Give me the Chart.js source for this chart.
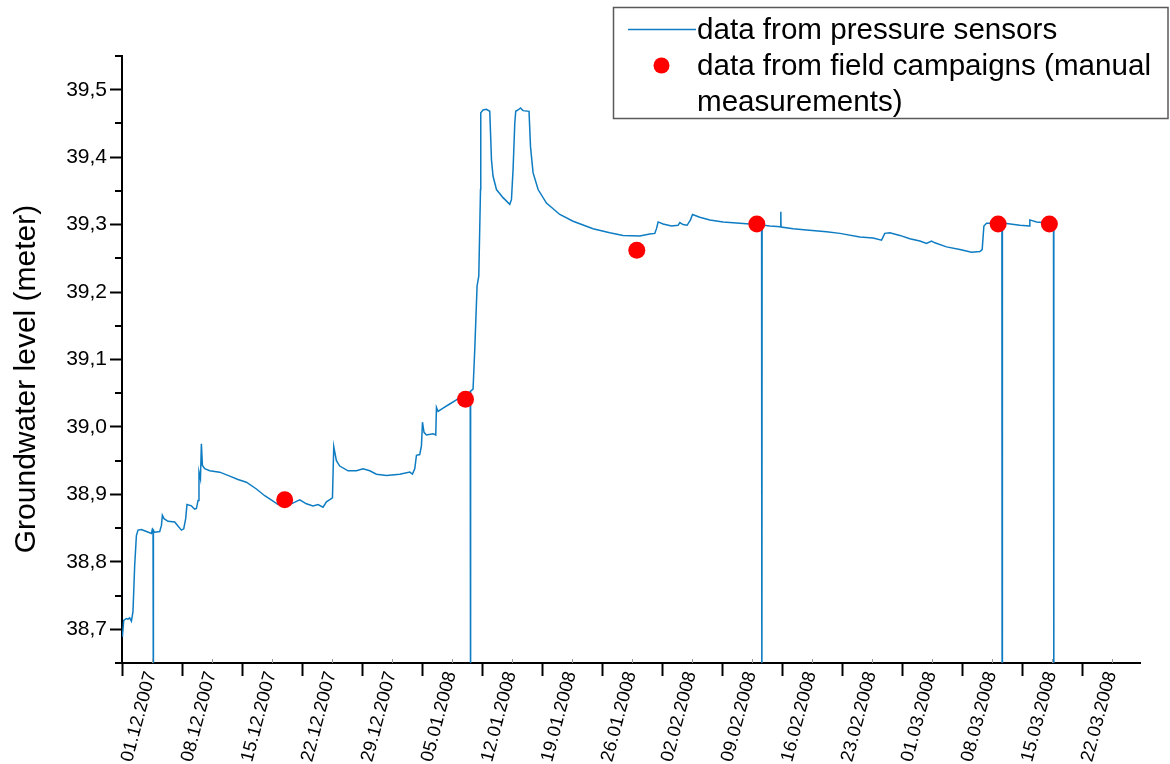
<!DOCTYPE html>
<html>
<head>
<meta charset="utf-8">
<title>Groundwater level</title>
<script src="https://cdn.jsdelivr.net/npm/chart.js@4.4.1/dist/chart.umd.min.js"></script>
<style>
  html, body { margin: 0; padding: 0; background: #ffffff; }
  canvas { display: block; }
</style>
</head>
<body>
<canvas id="chart" width="1170" height="764"></canvas>
<script>
// Time axis: days counted from 01.12.2007 (00:00).
// Sensor readings; the short dips to 38.5 are logger read-outs (off scale).
const sensorDays = [
  0.05, 0.20, 0.51, 0.70, 0.90, 1.10, 1.28, 1.48, 1.68, 1.87, 2.26, 2.85, 3.43, 3.55, 3.62, 3.65, 3.68,
  3.82, 4.40, 4.60, 4.71, 4.90, 5.37, 6.15, 6.53, 6.93, 7.20, 7.43, 7.58, 8.10, 8.48, 8.68, 8.87,
  8.98, 9.15, 9.26, 9.38, 9.65, 10.23, 11.40, 12.57, 13.53, 14.51, 15.68, 16.65, 17.62, 18.20, 18.98,
  19.76, 20.73, 21.51, 22.28, 22.87, 23.45, 23.85, 24.55, 24.70, 25.01, 25.40, 26.37, 27.35, 28.12,
  28.90, 29.68, 30.85, 32.40, 33.57, 33.88, 34.15, 34.35, 34.73, 34.93, 35.05, 35.23, 35.51, 36.28,
  36.60, 36.68, 36.87, 37.45, 38.23, 39.01, 39.63, 40.33, 40.62, 40.65, 40.68, 40.95, 41.15, 41.42,
  41.62, 41.82, 41.85, 42.12, 42.51, 42.90, 43.10, 43.28, 43.68, 44.45, 45.23, 45.43, 45.62, 45.82,
  45.93, 46.20, 46.48, 46.78, 47.48, 47.65, 47.95, 48.54, 49.51, 51.07, 52.62, 54.95, 56.90, 58.45,
  60.40, 61.57, 62.15, 62.35, 62.54, 63.12, 64.10, 64.87, 65.07, 65.45, 65.92, 66.31, 66.55, 67.40,
  68.57, 70.12, 72.07, 74.02, 74.61, 74.64, 74.67, 75.57, 76.82, 76.85, 76.88, 78.29, 79.85, 82.18,
  83.74, 86.07, 87.62, 88.60, 88.98, 89.57, 90.74, 91.90, 93.07, 93.85, 94.43, 94.82, 96.18, 97.74,
  99.10, 100.07, 100.34, 100.54, 100.85, 101.43, 102.64, 102.67, 102.70, 103.18, 104.74, 105.82,
  105.90, 106.68, 107.65, 108.66, 108.70
];
const sensorLevel = [
  38.689, 38.713, 38.716, 38.715, 38.717, 38.712, 38.726, 38.795, 38.839, 38.847, 38.848, 38.845, 38.842, 38.849, 38.848, 38.5, 38.846,
  38.844, 38.845, 38.854, 38.869, 38.864, 38.860, 38.859, 38.853, 38.847, 38.849, 38.864, 38.885, 38.883, 38.878, 38.879, 38.891,
  38.933, 38.923, 38.975, 38.943, 38.938, 38.935, 38.933, 38.927, 38.922, 38.918, 38.908, 38.898, 38.890, 38.885, 38.888,
  38.886, 38.892, 38.886, 38.883, 38.885, 38.881, 38.889, 38.895, 38.971, 38.950, 38.942, 38.935, 38.935, 38.938,
  38.935, 38.930, 38.928, 38.930, 38.933, 38.930, 38.938, 38.958, 38.959, 38.972, 39.007, 38.992, 38.988, 38.990,
  38.988, 39.029, 39.023, 39.028, 39.034, 39.040, 39.046, 39.050, 39.052, 38.5, 39.053, 39.056, 39.115, 39.209,
  39.224, 39.352, 39.466, 39.470, 39.471, 39.468, 39.396, 39.372, 39.352, 39.340, 39.330, 39.337, 39.382, 39.451,
  39.468, 39.470, 39.473, 39.469, 39.468, 39.416, 39.377, 39.352, 39.332, 39.315, 39.305, 39.294, 39.288, 39.284,
  39.283, 39.286, 39.287, 39.294, 39.304, 39.301, 39.298, 39.299, 39.303, 39.300, 39.299, 39.307, 39.315, 39.311,
  39.307, 39.304, 39.302, 39.300, 39.2995, 38.5, 39.2993, 39.298, 39.297, 39.319, 39.2965, 39.294, 39.292, 39.2895,
  39.287, 39.2815, 39.280, 39.277, 39.287, 39.288, 39.284, 39.279, 39.2756, 39.272, 39.2756, 39.273, 39.267, 39.263,
  39.259, 39.260, 39.263, 39.298, 39.302, 39.302, 39.3015, 38.5, 39.3015, 39.3015, 39.299, 39.298,
  39.307, 39.304, 39.3026, 39.301, 38.5
];

// Manual measurements taken during the field campaigns
const campaignDays = [18.98, 40.07, 60.05, 74.05, 102.20, 108.18];
const campaignLevel = [38.892, 39.041, 39.262, 39.301, 39.301, 39.301];

// Weekly date labels on the time axis
const tickDates = [
  '01.12.2007', '08.12.2007', '15.12.2007', '22.12.2007', '29.12.2007', '05.01.2008',
  '12.01.2008', '19.01.2008', '26.01.2008', '02.02.2008', '09.02.2008', '16.02.2008',
  '23.02.2008', '01.03.2008', '08.03.2008', '15.03.2008', '22.03.2008'
];
// Labelled levels on the vertical axis
const levelTicks = [38.7, 38.8, 38.9, 39.0, 39.1, 39.2, 39.3, 39.4, 39.5];

const seriesNames = ['data from pressure sensors', 'data from field campaigns (manual', 'measurements)'];
const yTitle = 'Groundwater level (meter)';

const FONT = '"Liberation Sans", Arial, Helvetica, sans-serif';
const LINE_BLUE = 'rgb(14,124,194)';
const DOT_RED = '#ff0000';

// Minor ticks between the labelled ones, plus the rotated axis title and the boxed legend
const decorations = {
  id: 'decorations',
  afterDraw(chart) {
    const ctx = chart.ctx;
    const xs = chart.scales.x;
    const ys = chart.scales.y;
    const area = chart.chartArea;
    ctx.save();

    // y minor ticks (half steps), pointing outwards
    ctx.strokeStyle = '#000';
    ctx.lineWidth = 2;
    for (let i = 0; i <= levelTicks.length; i++) {
      const v = levelTicks[0] - 0.05 + i * 0.1;
      const py = Math.round(ys.getPixelForValue(v));
      ctx.beginPath();
      ctx.moveTo(area.left - 7, py);
      ctx.lineTo(area.left, py);
      ctx.stroke();
    }
    // x minor ticks (half weeks)
    ctx.strokeStyle = '#999';
    ctx.lineWidth = 1;
    for (let d = 3.5; d < xs.max; d += 7) {
      const px = Math.round(xs.getPixelForValue(d)) + 0.5;
      ctx.beginPath();
      ctx.moveTo(px, area.bottom - 4);
      ctx.lineTo(px, area.bottom);
      ctx.stroke();
    }

    // axis title
    ctx.fillStyle = '#000';
    ctx.font = '30px ' + FONT;
    ctx.textAlign = 'center';
    ctx.textBaseline = 'alphabetic';
    ctx.translate(35, 379);
    ctx.rotate(-Math.PI / 2);
    ctx.fillText(yTitle, 0, 0);
    ctx.restore();

    // legend box
    ctx.save();
    ctx.fillStyle = '#ffffff';
    ctx.fillRect(613.5, 7.5, 554.5, 111);
    ctx.strokeStyle = '#5a5a5a';
    ctx.lineWidth = 1.5;
    ctx.strokeRect(613.5, 7.5, 554.5, 111);

    ctx.strokeStyle = LINE_BLUE;
    ctx.lineWidth = 1.5;
    ctx.beginPath();
    ctx.moveTo(628, 29.5);
    ctx.lineTo(696, 29.5);
    ctx.stroke();

    ctx.fillStyle = DOT_RED;
    ctx.beginPath();
    ctx.arc(661.5, 65.5, 8, 0, Math.PI * 2);
    ctx.fill();

    ctx.fillStyle = '#000';
    ctx.font = '29.6px ' + FONT;
    ctx.textAlign = 'left';
    ctx.textBaseline = 'alphabetic';
    ctx.fillText(seriesNames[0], 697, 39);
    ctx.fillText(seriesNames[1], 697, 75);
    ctx.fillText(seriesNames[2], 697, 111);
    ctx.restore();
  }
};

const sensorPoints = sensorDays.map((d, i) => ({ x: d, y: sensorLevel[i] }));
const campaignPoints = campaignDays.map((d, i) => ({ x: d, y: campaignLevel[i] }));

new Chart(document.getElementById('chart'), {
  type: 'scatter',
  data: {
    datasets: [
      {
        label: seriesNames[1] + ' ' + seriesNames[2],
        data: campaignPoints,
        order: 0,
        pointRadius: 8.5,
        pointHoverRadius: 8.5,
        pointBackgroundColor: DOT_RED,
        pointBorderWidth: 0,
        showLine: false
      },
      {
        label: seriesNames[0],
        data: sensorPoints,
        order: 1,
        showLine: true,
        borderColor: LINE_BLUE,
        borderWidth: 1.5,
        pointRadius: 0,
        pointHoverRadius: 0,
        tension: 0
      }
    ]
  },
  options: {
    responsive: false,
    animation: false,
    events: [],
    layout: { padding: { top: 56, right: 30, left: 0, bottom: 0 } },
    plugins: {
      legend: { display: false },
      tooltip: { enabled: false }
    },
    scales: {
      x: {
        type: 'linear',
        min: 0,
        max: 118.75,
        afterBuildTicks(scale) {
          scale.ticks = tickDates.map((_, k) => ({ value: k * 7 }));
        },
        afterFit(scale) { scale.height = 101; },
        border: { display: true, color: '#000', width: 2 },
        grid: {
          drawOnChartArea: false,
          drawTicks: true,
          tickLength: 13,
          tickWidth: 2,
          tickColor: '#000'
        },
        ticks: {
          autoSkip: false,
          minRotation: 75,
          maxRotation: 75,
          labelOffset: 29,
          padding: -7,
          color: '#000',
          font: { family: FONT, size: 18.5 },
          callback(value) {
            const k = Math.round(value / 7);
            return tickDates[k] !== undefined ? tickDates[k] : '';
          }
        }
      },
      y: {
        min: 38.65,
        max: 39.55,
        afterBuildTicks(scale) {
          scale.ticks = levelTicks.map(v => ({ value: v }));
        },
        afterFit(scale) { scale.width = 122; },
        border: { display: true, color: '#000', width: 2 },
        grid: {
          drawOnChartArea: false,
          drawTicks: true,
          tickLength: 12,
          tickWidth: 2,
          tickColor: '#000'
        },
        ticks: {
          autoSkip: false,
          padding: 3,
          color: '#000',
          font: { family: FONT, size: 21 },
          callback(value) {
            return value.toFixed(1).replace('.', ',');
          }
        }
      }
    }
  },
  plugins: [decorations]
});
</script>
</body>
</html>
